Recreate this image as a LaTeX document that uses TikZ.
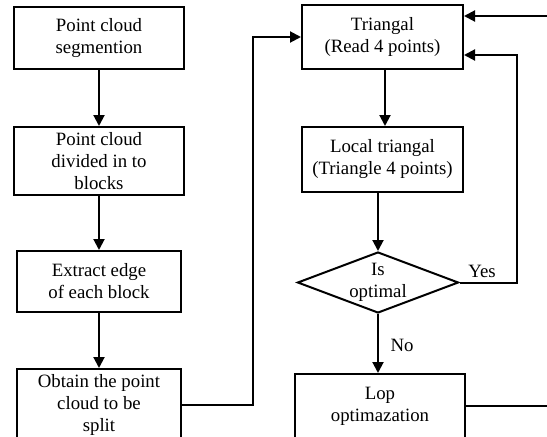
\documentclass[tikz,border=0pt]{standalone}
\usepackage{fontspec}
\setmainfont{Liberation Serif}
\usetikzlibrary{arrows.meta,shapes.geometric,calc}
\tikzset{
  txt/.style={font=\fontsize{18.8}{22}\selectfont},
  box/.style={draw, line width=2pt, rectangle, align=center, inner sep=0pt, txt},
  decision/.style={draw, line width=2pt, diamond, aspect=2.64, inner sep=0pt,
    minimum width=161pt, minimum height=61pt, align=center, txt},
  arr/.style={line width=2pt, -{Triangle[length=11pt,width=11pt]}},
  ln/.style={line width=2pt},
  lbl/.style={txt, inner sep=0pt}
}
\begin{document}
\begin{tikzpicture}[x=1pt,y=-1pt]
  \clip (0,0) rectangle (547,437);
  \fill[white] (0,0) rectangle (547,437);

  % left column
  \node[box, minimum width=170pt, minimum height=62pt] (seg) at (99,38)
    {Point cloud\\segmention};
  \node[box, minimum width=170pt, minimum height=68pt] (div) at (99,161)
    {Point cloud\\divided in to\\blocks};
  \node[box, minimum width=164pt, minimum height=61pt] (edge) at (99,281.5)
    {Extract edge\\of each block};
  \node[box, minimum width=164pt, minimum height=72pt] (obt) at (99,405)
    {Obtain the point\\cloud to be\\split};

  % right column
  \node[box, minimum width=161pt, minimum height=64pt] (tri) at (382.5,37)
    {Triangal\\(Read 4 points)};
  \node[box, minimum width=161pt, minimum height=65pt] (loc) at (382.5,159.5)
    {Local triangal\\(Triangle 4 points)};
  \node[decision] (opt) at (378,282.5) {Is\\optimal};
  \node[box, minimum width=170pt, minimum height=64pt] (lop) at (380,406)
    {Lop\\optimazation};

  % free ends at the right border
  \coordinate (inTop) at (547,16);
  \coordinate (outLop) at (547,406);
  \coordinate (loopX) at (517,282.5);

  % connectors
  \draw[arr] (seg) -- (div);
  \draw[arr] (div) -- (edge);
  \draw[arr] (edge) -- (obt);
  \draw[arr] (obt.east) -- ++(71,0) |- (tri.west);
  \draw[arr] (inTop) -- (inTop -| tri.east);
  \draw[arr] ($(tri.south)+(2.5,0)$) -- ($(loc.north)+(2.5,0)$);
  \draw[arr] (loc.south -| opt.north) -- (opt.north);
  \draw[arr] (opt.east) -- (loopX) |- ($(tri.east)+(0,18)$);
  \draw[arr] (opt.south) -- (opt.south |- lop.north);
  \draw[ln] (lop.east) -- (lop.east -| outLop);

  % branch labels
  \node[lbl] (yes) at (482,271) {Yes};
  \node[lbl] (no) at (402,345) {No};
\end{tikzpicture}
\end{document}
